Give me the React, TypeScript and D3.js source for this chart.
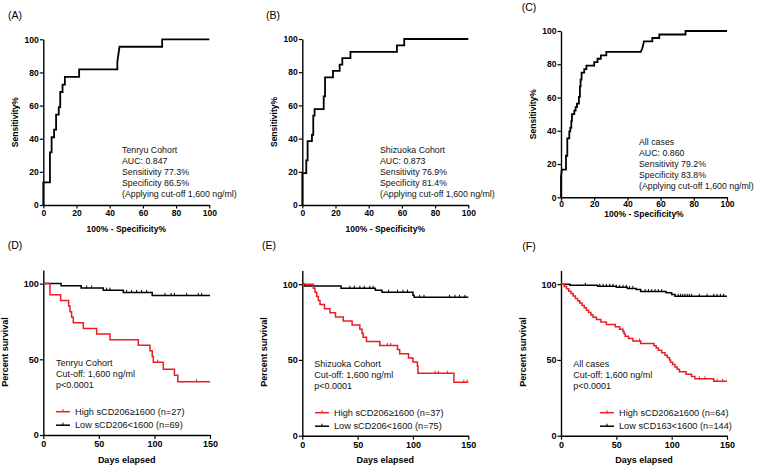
import React, { useEffect, useRef } from 'react';
import * as d3 from 'd3';

// ROC curves, points are [100% - specificity, sensitivity]
const rocTenryu = [[0,0],[0,13.6],[4,13.6],[4,31.8],[5,31.8],[5,40.9],[6.5,40.9],[6.5,45.5],[7.7,45.5],[7.7,54.5],[9.3,54.5],[9.3,59.1],[10.2,59.1],[10.2,68.2],[11.6,68.2],[11.6,72.7],[13,72.7],[13,77.3],[21.6,77.3],[21.6,81.8],[44.6,81.8],[44.6,86.4],[45.9,95.5],[71.6,95.5],[71.6,100],[100,100]];
const rocShizuoka = [[0,0],[0,19.2],[2.4,19.2],[2.4,26.9],[3.2,26.9],[3.2,38.5],[5.8,38.5],[5.8,42.3],[6.6,42.3],[6.6,53.8],[7.4,53.8],[7.4,57.7],[12.9,57.7],[12.9,65.4],[13.7,65.4],[13.7,76.9],[18.5,76.9],[18.5,80.8],[22.5,80.8],[22.5,84.6],[24.1,84.6],[24.1,88.5],[29,88.5],[29,92.3],[57,92.3],[57,96.2],[61.4,96.2],[61.4,100],[100,100]];
const rocAll = [[0,0],[0,12.5],[0.5,16.7],[3,16.7],[3,25],[3.8,25],[3.8,35.4],[5,35.4],[5,39.6],[5.6,39.6],[5.6,41.7],[6.2,41.7],[6.2,45.8],[6.6,45.8],[6.6,50],[8,50],[8,52.1],[8.8,52.1],[8.8,54.2],[9.6,54.2],[9.6,56.3],[10.8,56.3],[10.8,60.4],[11.4,60.4],[11.4,66.7],[11.8,66.7],[11.8,70.8],[12.4,70.8],[12.4,75],[14,75],[14,77.1],[15.3,77.1],[15.3,79.2],[20,79.2],[20,81.3],[22,81.3],[22,83.3],[24,83.3],[24,85.4],[27.3,85.4],[27.3,87.5],[48,87.5],[49,89.6],[50,93.8],[55,93.8],[55,95.8],[59.2,95.8],[59.2,97.9],[75,97.9],[75,100],[100,100]];
const rocTicks = [0, 20, 40, 60, 80, 100];

const rocTextTenryu = ['Tenryu Cohort', 'AUC: 0.847', 'Sensitivity 77.3%', 'Specificity 86.5%', '(Applying cut-off 1,600 ng/ml)'];
const rocTextShizuoka = ['Shizuoka Cohort', 'AUC: 0.873', 'Sensitivity 76.9%', 'Specificity 81.4%', '(Applying cut-off 1,600 ng/ml)'];
const rocTextAll = ['All cases', 'AUC: 0.860', 'Sensitivity 79.2%', 'Specificity 83.8%', '(Applying cut-off 1,600 ng/ml)'];

// Kaplan-Meier steps, [day, percent survival after the event]
const kmTenryuHigh = [[0,100],[6,92.6],[15.6,88.9],[22.8,85.2],[24,81.5],[25.5,77.8],[27,74.1],[36,70.4],[48,66.7],[60,63],[85.5,59.3],[96,55.6],[98,51.9],[99,48.1],[108,43.5],[118,39.4],[121,35.2]];
const kmTenryuLow = [[0,100],[16,98.6],[34,97.1],[54,95.7],[72,94.2],[98,92.2]];
const censorTenryuHigh = [103, 138];
const censorTenryuLow = [39, 43.5, 57, 60, 75, 79.5, 84, 88.5, 93, 109.5, 115, 118, 129, 139.5, 142.5];

const kmShizuokaHigh = [[0,100],[10,97.3],[11.5,94.6],[13,91.9],[14.5,89.2],[16,86.5],[20,83.8],[25,81.1],[30,78.4],[37,75.7],[45,73],[52,70.3],[54,67.6],[55,64.9],[58,62.2],[70,59.5],[86,56.8],[88,54],[96,51.3],[100,48.6],[104,45.9],[104.5,41.2],[137,35.3]];
const kmShizuokaLow = [[0,100],[2,98.7],[35,97.3],[66,96],[72,94.7],[100,92.7],[101,91.3]];
const censorShizuokaHigh = [77, 80, 120, 123, 131, 146, 149];
const censorShizuokaLow = [43, 47, 52, 56, 61, 64, 78, 86, 91, 95, 106, 110, 133, 138, 142, 147];

const kmAllHigh = [[0,100],[3,98.4],[5,96.9],[7,95.3],[9,93.8],[11,92.2],[13,90.6],[15,89.1],[17,87.5],[19,85.9],[21,84.4],[23,82.8],[25,81.3],[27,79.7],[29,78.1],[32,76.6],[36,75],[41,73.4],[49,71.9],[53,70.3],[56,68.8],[57,67.2],[58,65.6],[61,64.1],[65,62.5],[72,60.9],[84,59.4],[86,57.8],[88,56.3],[91,54.7],[94,53.1],[96,51.6],[98,50],[99,48.4],[101,46.9],[103,45.3],[105,43.8],[107,42.2],[113,40.6],[118,39],[121,37.5],[138,35.9]];
const kmAllLow = [[0,100],[8,99.3],[33,98.6],[50,97.9],[60,97.2],[68,96.5],[72,95.1],[95,94.4],[100,93.1],[103,92]];
const censorAllHigh = [71, 125, 130, 141, 146];
const censorAllLow = [22, 35, 38, 41, 44, 47, 50, 53, 56, 59, 62, 65, 76, 79, 82, 85, 88, 91, 106, 108, 110, 112, 114, 116, 118, 125, 132, 138, 141, 144, 147];

const kmXTicks = [0, 50, 100, 150];
const kmYTicks = [0, 50, 100];

const kmTextTenryu = ['Tenryu Cohort', 'Cut-off: 1,600 ng/ml', 'p<0.0001'];
const kmTextShizuoka = ['Shizuoka Cohort', 'Cut-off: 1,600 ng/ml', 'p<0.0001'];
const kmTextAll = ['All cases', 'Cut-off: 1,600 ng/ml', 'p<0.0001'];
const legendTenryu = ['High sCD206\u22651600 (n=27)', 'Low sCD206<1600 (n=69)'];
const legendShizuoka = ['High sCD206\u22651600 (n=37)', 'Low sCD206<1600 (n=75)'];
const legendAll = ['High sCD206\u22651600 (n=64)', 'Low sCD163<1600 (n=144)'];

const FONT = '"Liberation Sans", Arial, Helvetica, sans-serif';
const RED = '#ec1c24';

const rocPanels = [
  { tag: '(A)', tagX: 15, tagY: 15, left: 43.3, right: 209.3, top: 39.3, bottom: 205, data: rocTenryu, text: rocTextTenryu, tx: 122, ty: 153, xtY: 232, ytX: 15, pad: 1.5 },
  { tag: '(B)', tagX: 273, tagY: 15, left: 302.3, right: 468.3, top: 39, bottom: 205, data: rocShizuoka, text: rocTextShizuoka, tx: 380, ty: 153, xtY: 232, ytX: 274, pad: 1.5 },
  { tag: '(C)', tagX: 529, tagY: 7, left: 561, right: 727, top: 31, bottom: 197.3, data: rocAll, text: rocTextAll, tx: 639, ty: 144.7, xtY: 216.5, ytX: 533, pad: 0.5 },
];

const kmPanels = [
  { tag: '(D)', tagX: 15, tagY: 245, left: 43.3, right: 210, top: 270, bottom: 435, high: kmTenryuHigh, low: kmTenryuLow, cHigh: censorTenryuHigh, cLow: censorTenryuLow, text: kmTextTenryu, legend: legendTenryu, tx: 56, ty: 366.3, lx: 56, ly: 411.7, ytX: 5 },
  { tag: '(E)', tagX: 269, tagY: 245, left: 302.3, right: 468.3, top: 270.5, bottom: 435.7, high: kmShizuokaHigh, low: kmShizuokaLow, cHigh: censorShizuokaHigh, cLow: censorShizuokaLow, text: kmTextShizuoka, legend: legendShizuoka, tx: 314.3, ty: 367.3, lx: 315, ly: 412.7, ytX: 264 },
  { tag: '(F)', tagX: 529, tagY: 246, left: 561, right: 727, top: 270.5, bottom: 435.7, high: kmAllHigh, low: kmAllLow, cHigh: censorAllHigh, cLow: censorAllLow, text: kmTextAll, legend: legendAll, tx: 573.3, ty: 367.3, lx: 600, ly: 412.7, ytX: 523 },
];

function styleAxis(g, size) {
  g.select('.domain').attr('stroke', '#000').attr('stroke-width', 1.4);
  g.selectAll('.tick line').attr('stroke', '#000').attr('stroke-width', 1.2);
  g.selectAll('text')
    .attr('font-family', FONT)
    .attr('font-size', size)
    .attr('font-weight', 'bold')
    .attr('fill', '#000');
  g.attr('font-family', null).attr('font-size', null);
}

function survAt(steps, t) {
  let s = steps[0][1];
  for (const [d, v] of steps) if (d <= t) s = v;
  return s;
}

export default function App() {
  const ref = useRef(null);

  useEffect(() => {
    const svg = d3.select(ref.current);
    svg.selectAll('*').remove();

    rocPanels.forEach((p) => {
      const x = d3.scaleLinear().domain([0, 100]).range([p.left, p.right]);
      const y = d3.scaleLinear().domain([0, 100]).range([p.bottom, p.top]);
      const g = svg.append('g');

      g.append('text').attr('x', p.tagX).attr('y', p.tagY).attr('dy', '0.35em')
        .attr('text-anchor', 'middle').attr('font-family', FONT).attr('font-size', 10.5).text(p.tag);

      const xa = g.append('g').attr('transform', `translate(0,${p.bottom})`)
        .call(d3.axisBottom(x).tickValues(rocTicks).tickSize(3.5).tickSizeOuter(0).tickPadding(p.pad));
      styleAxis(xa, 8.5);
      const ya = g.append('g').attr('transform', `translate(${p.left},0)`)
        .call(d3.axisLeft(y).tickValues(rocTicks).tickSize(3.5).tickSizeOuter(0).tickPadding(1));
      styleAxis(ya, 8.5);

      g.append('path').datum(p.data)
        .attr('d', d3.line().x((d) => x(d[0])).y((d) => y(d[1])))
        .attr('fill', 'none').attr('stroke', '#000').attr('stroke-width', 1.8);

      g.append('text').attr('x', (p.left + p.right) / 2).attr('y', p.xtY)
        .attr('text-anchor', 'middle').attr('font-family', FONT).attr('font-size', 8.5)
        .attr('font-weight', 'bold').text('100% - Specificity%');
      g.append('text').attr('transform', `translate(${p.ytX},${(p.top + p.bottom) / 2}) rotate(-90)`)
        .attr('dy', '0.35em').attr('text-anchor', 'middle').attr('font-family', FONT).attr('font-size', 8.5)
        .attr('font-weight', 'bold').text('Sensitivity%');

      g.append('g').selectAll('text').data(p.text).join('text')
        .attr('x', p.tx).attr('y', (d, i) => p.ty + i * 11)
        .attr('font-family', FONT).attr('font-size', 8.8).attr('fill', '#111').text((d) => d);
    });

    kmPanels.forEach((p) => {
      const x = d3.scaleLinear().domain([0, 150]).range([p.left, p.right]);
      const y = d3.scaleLinear().domain([0, 109]).range([p.bottom, p.top]);
      const g = svg.append('g');

      g.append('text').attr('x', p.tagX).attr('y', p.tagY).attr('dy', '0.35em')
        .attr('text-anchor', 'middle').attr('font-family', FONT).attr('font-size', 10.5).text(p.tag);

      const xa = g.append('g').attr('transform', `translate(0,${p.bottom})`)
        .call(d3.axisBottom(x).tickValues(kmXTicks).tickSize(4).tickSizeOuter(0).tickPadding(2));
      styleAxis(xa, 9);
      const ya = g.append('g').attr('transform', `translate(${p.left},0)`)
        .call(d3.axisLeft(y).tickValues(kmYTicks).tickSize(3.5).tickSizeOuter(0).tickPadding(1));
      styleAxis(ya, 9);

      const line = d3.line().curve(d3.curveStepAfter).x((d) => x(d[0])).y((d) => y(d[1]));
      const series = [
        { steps: p.low, censor: p.cLow, color: '#000' },
        { steps: p.high, censor: p.cHigh, color: RED },
      ];
      series.forEach((s) => {
        const pts = [...s.steps, [150, s.steps[s.steps.length - 1][1]]];
        g.append('path').datum(pts).attr('d', line)
          .attr('fill', 'none').attr('stroke', s.color).attr('stroke-width', 1.5);
        g.append('g').selectAll('line').data(s.censor).join('line')
          .attr('x1', (d) => x(d)).attr('x2', (d) => x(d))
          .attr('y1', (d) => y(survAt(s.steps, d)) - 2.5).attr('y2', (d) => y(survAt(s.steps, d)) + 0.5)
          .attr('stroke', s.color).attr('stroke-width', 1);
      });

      g.append('text').attr('x', (p.left + p.right) / 2).attr('y', 462.5)
        .attr('text-anchor', 'middle').attr('font-family', FONT).attr('font-size', 9)
        .attr('font-weight', 'bold').text('Days elapsed');
      g.append('text').attr('transform', `translate(${p.ytX},352) rotate(-90)`)
        .attr('dy', '0.35em').attr('text-anchor', 'middle').attr('font-family', FONT).attr('font-size', 9)
        .attr('font-weight', 'bold').text('Percent survival');

      g.append('g').selectAll('text').data(p.text).join('text')
        .attr('x', p.tx).attr('y', (d, i) => p.ty + i * 11)
        .attr('font-family', FONT).attr('font-size', 9).attr('fill', '#111').text((d) => d);

      // legend
      [RED, '#000'].forEach((c, i) => {
        const ly = p.ly + i * 13.5;
        g.append('line').attr('x1', p.lx).attr('x2', p.lx + 14).attr('y1', ly).attr('y2', ly)
          .attr('stroke', c).attr('stroke-width', 1.5);
        g.append('line').attr('x1', p.lx + 7).attr('x2', p.lx + 7).attr('y1', ly - 2.5).attr('y2', ly + 0.5)
          .attr('stroke', c).attr('stroke-width', 1);
        g.append('text').attr('x', p.lx + 19).attr('y', ly).attr('dy', '0.35em')
          .attr('font-family', FONT).attr('font-size', 9.2).attr('fill', '#111').text(p.legend[i]);
      });
    });
  }, []);

  return (
    <svg ref={ref} width={760} height={466} style={{ position: 'absolute', left: 0, top: 0, background: '#fff' }} />
  );
}
